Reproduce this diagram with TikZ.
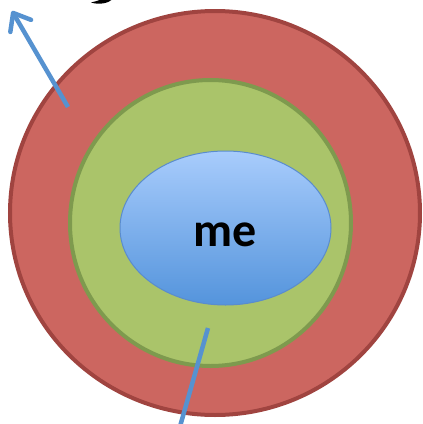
\documentclass[tikz,border=0pt]{standalone}
\usepackage{fontspec}
\setsansfont{Carlito}
\usetikzlibrary{shapes.geometric,arrows.meta}
\definecolor{ringred}{RGB}{204,102,96}
\definecolor{ringredline}{RGB}{160,68,64}
\definecolor{ringgreen}{RGB}{170,196,106}
\definecolor{ringgreenline}{RGB}{126,154,78}
\definecolor{coretop}{RGB}{168,204,252}
\definecolor{corebottom}{RGB}{84,148,220}
\definecolor{coreline}{RGB}{90,140,205}
\definecolor{pointer}{RGB}{86,146,208}
\begin{document}
\begin{tikzpicture}[
  x=1pt, y=-1pt,
  ring/.style={ellipse, draw, line width=4pt, inner sep=0pt},
  core/.style={ellipse, draw=coreline, line width=1pt, inner sep=0pt,
    top color=coretop, bottom color=corebottom},
  pointer/.style={draw=pointer, line width=4.5pt},
]
  \useasboundingbox (0,0) rectangle (423,424);

  \node[ring, fill=ringred, draw=ringredline, minimum width=410pt, minimum height=404pt] (outer) at (215,213) {};
  \node[ring, fill=ringgreen, draw=ringgreenline, minimum width=281pt, minimum height=286pt] (middle) at (210.5,223) {};
  \node[core, minimum width=211pt, minimum height=154pt] (me) at (225.5,228) {};
  \node[font=\sffamily\bfseries\fontsize{48}{52}\selectfont, inner sep=0pt] (melabel) at (225,235) {me};

  \coordinate (outtail) at (68,107);
  \coordinate (outtip) at (12,11);
  \coordinate (intop) at (208,328);
  \coordinate (inbottom) at (179,430);

  \draw[pointer, -{Straight Barb[length=15pt, width=24pt, line cap=round, line join=round]}] (outtail) -- (outtip);
  \draw[pointer] (intop) -- (inbottom);

  % cut-off black stroke at the top edge
  \fill (91,2.5) .. controls (99,5) and (108,3.5) .. (113,-1) -- (102,-1) .. controls (99,0.5) and (95,1.5) .. (91,2.5);
\end{tikzpicture}
\end{document}
